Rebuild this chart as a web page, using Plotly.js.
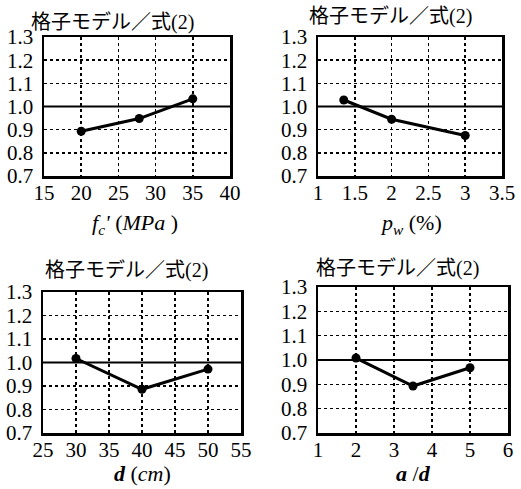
<!DOCTYPE html>
<html><head><meta charset="utf-8">
<script src="https://cdn.plot.ly/plotly-3.0.1.min.js"></script>
<style>body{margin:0;background:#fff}</style></head>
<body><div id="c" style="width:521px;height:489px"></div>
<script>
// Data
const panelTitle = '格子モデル／式(2)';
const fcX = [20, 27.8, 35];
const fcY = [0.893, 0.948, 1.033];
const pwX = [1.35, 2, 3];
const pwY = [1.028, 0.945, 0.875];
const dX = [30, 40, 50];
const dY = [1.017, 0.886, 0.972];
const adX = [2, 3.5, 5];
const adY = [1.008, 0.893, 0.968];

const yTicks = [0.7, 0.8, 0.9, 1.0, 1.1, 1.2, 1.3];
const fcTicks = [15, 20, 25, 30, 35, 40];
const pwTicks = [1, 1.5, 2, 2.5, 3, 3.5];
const pwTickText = ['1', '1.5', '2', '2.5', '3', '3.5'];
const dTicks = [25, 30, 35, 40, 45, 50, 55];
const adTicks = [1, 2, 3, 4, 5, 6];

const xTitles = ["<i>f<sub>c</sub>'</i> (<i>MPa</i> )", "<i>p<sub>w</sub></i> (%)", "<b><i>d</i></b> (<i>cm</i>)", "<b><i>a</i></b> /<b><i>d</i></b>"];

const W = 521, H = 489;
const boxes = [
  {l: 44, r: 230, t: 37, b: 176},
  {l: 318, r: 502, t: 37, b: 176},
  {l: 43, r: 241, t: 292, b: 433},
  {l: 318, r: 508, t: 287, b: 433}
];
const xs = [fcX, pwX, dX, adX];
const ys = [fcY, pwY, dY, adY];
const xTickSets = [fcTicks, pwTicks, dTicks, adTicks];
const xTickTexts = [fcTicks.map(String), pwTickText, dTicks.map(String), adTicks.map(String)];
const titlePos = [[112, 23], [390, 17], [126, 270], [397, 268]];
const xTitlePos = [[135, 224], [411, 224], [142, 473], [413, 473]];

const serif = 'Liberation Serif';
const cjk = '"Liberation Serif", "Noto Sans CJK JP"';

const data = [];
const layout = {
  width: W, height: H,
  margin: {l: 0, r: 0, t: 0, b: 0},
  paper_bgcolor: '#fff', plot_bgcolor: '#fff',
  showlegend: false,
  font: {family: serif, color: '#000'},
  shapes: [], annotations: []
};

for (let i = 0; i < 4; i++) {
  const n = i === 0 ? '' : String(i + 1);
  const bx = boxes[i];
  data.push({
    x: xs[i], y: ys[i], xaxis: 'x' + n, yaxis: 'y' + n,
    type: 'scatter', mode: 'lines+markers',
    line: {color: '#000', width: 3},
    marker: {color: '#000', size: 9}
  });
  const xt = xTickSets[i];
  layout['xaxis' + n] = {
    domain: [bx.l / W, bx.r / W],
    anchor: 'y' + n,
    range: [xt[0], xt[xt.length - 1]],
    tickmode: 'array', tickvals: xt, ticktext: xTickTexts[i],
    showgrid: true, gridcolor: '#000', griddash: 'dot', gridwidth: 1.5,
    showline: true, mirror: true, linecolor: '#000', linewidth: 2.5,
    ticks: '', zeroline: false,
    tickfont: {family: serif, size: 21, color: '#000'},
    ticklabelstandoff: -4
  };
  layout['yaxis' + n] = {
    domain: [1 - bx.b / H, 1 - bx.t / H],
    anchor: 'x' + n,
    range: [0.7, 1.3],
    tickmode: 'array', tickvals: yTicks, ticktext: yTicks.map(v => v.toFixed(1)),
    showgrid: true, gridcolor: '#000', griddash: 'dot', gridwidth: 1.5,
    showline: true, mirror: true, linecolor: '#000', linewidth: 2.5,
    ticks: '', zeroline: false,
    tickfont: {family: serif, size: 21, color: '#000'},
    ticklabelstandoff: 4
  };
  layout.shapes.push({
    type: 'line', xref: 'x' + n + ' domain', yref: 'y' + n,
    x0: 0, x1: 1, y0: 1.0, y1: 1.0,
    line: {color: '#000', width: 2}
  });
  layout.annotations.push({
    text: panelTitle, xref: 'paper', yref: 'paper',
    x: titlePos[i][0] / W, y: 1 - titlePos[i][1] / H,
    xanchor: 'center', yanchor: 'middle', showarrow: false,
    font: {family: cjk, size: 20, color: '#000'}
  });
  layout.annotations.push({
    text: xTitles[i], xref: 'paper', yref: 'paper',
    x: xTitlePos[i][0] / W, y: 1 - xTitlePos[i][1] / H,
    xanchor: 'center', yanchor: 'middle', showarrow: false,
    font: {family: serif, size: 22, color: '#000'}
  });
}

Plotly.newPlot('c', data, layout, {staticPlot: true, displayModeBar: false});
</script></body></html>
